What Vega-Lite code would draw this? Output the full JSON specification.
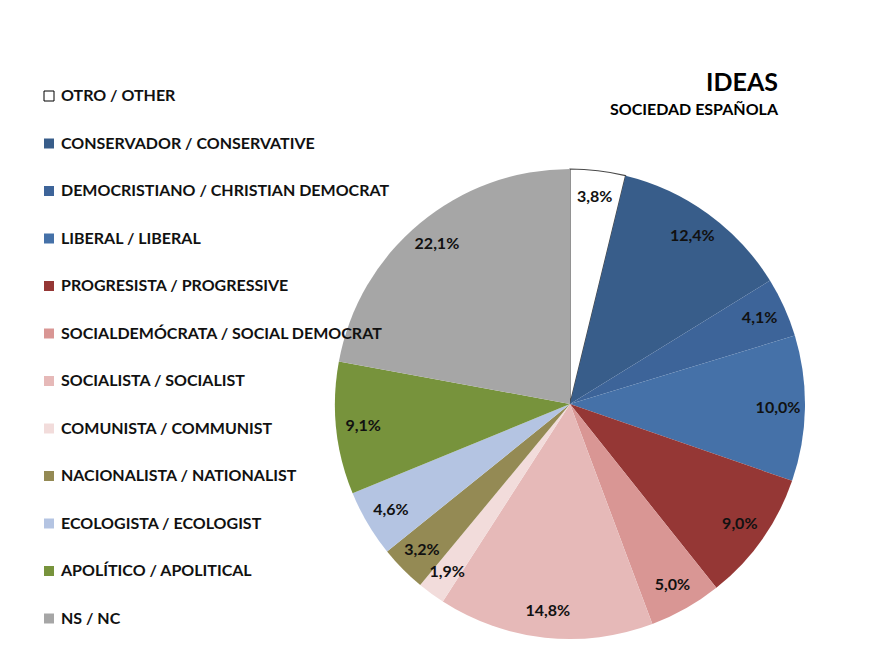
{
  "$schema": "https://vega.github.io/schema/vega-lite/v6.json",
  "width": 480,
  "height": 476,
  "autosize": "none",
  "padding": {"left": 330, "top": 166, "right": 66, "bottom": 4},
  "background": "white",
  "title": {
    "text": "IDEAS",
    "subtitle": "SOCIEDAD ESPAÑOLA",
    "anchor": "end",
    "frame": "group",
    "orient": "top",
    "offset": 50,
    "dx": -32,
    "dy": 80,
    "font": "Lato",
    "fontSize": 25,
    "fontWeight": "bold",
    "color": "#000000",
    "subtitleFont": "Lato",
    "subtitleFontSize": 16,
    "subtitleFontWeight": "bold",
    "subtitleColor": "#000000",
    "subtitlePadding": 6
  },
  "data": {
    "values": [
      {"o": 1, "cat": "OTRO / OTHER", "v": 3.8, "lab": "3,8%"},
      {"o": 2, "cat": "CONSERVADOR / CONSERVATIVE", "v": 12.4, "lab": "12,4%"},
      {"o": 3, "cat": "DEMOCRISTIANO / CHRISTIAN DEMOCRAT", "v": 4.1, "lab": "4,1%"},
      {"o": 4, "cat": "LIBERAL / LIBERAL", "v": 10.0, "lab": "10,0%"},
      {"o": 5, "cat": "PROGRESISTA / PROGRESSIVE", "v": 9.0, "lab": "9,0%"},
      {"o": 6, "cat": "SOCIALDEMÓCRATA / SOCIAL DEMOCRAT", "v": 5.0, "lab": "5,0%"},
      {"o": 7, "cat": "SOCIALISTA / SOCIALIST", "v": 14.8, "lab": "14,8%"},
      {"o": 8, "cat": "COMUNISTA / COMMUNIST", "v": 1.9, "lab": "1,9%"},
      {"o": 9, "cat": "NACIONALISTA / NATIONALIST", "v": 3.2, "lab": "3,2%"},
      {"o": 10, "cat": "ECOLOGISTA / ECOLOGIST", "v": 4.6, "lab": "4,6%"},
      {"o": 11, "cat": "APOLÍTICO / APOLITICAL", "v": 9.1, "lab": "9,1%"},
      {"o": 12, "cat": "NS / NC", "v": 22.1, "lab": "22,1%"}
    ]
  },
  "encoding": {
    "theta": {"field": "v", "type": "quantitative", "stack": true},
    "order": {"field": "o", "type": "quantitative", "sort": "ascending"}
  },
  "layer": [
    {
      "mark": {"type": "arc", "outerRadius": 235, "strokeWidth": 1.2},
      "encoding": {
        "color": {
          "field": "cat",
          "type": "nominal",
          "scale": {
            "domain": ["OTRO / OTHER", "CONSERVADOR / CONSERVATIVE", "DEMOCRISTIANO / CHRISTIAN DEMOCRAT", "LIBERAL / LIBERAL", "PROGRESISTA / PROGRESSIVE", "SOCIALDEMÓCRATA / SOCIAL DEMOCRAT", "SOCIALISTA / SOCIALIST", "COMUNISTA / COMMUNIST", "NACIONALISTA / NATIONALIST", "ECOLOGISTA / ECOLOGIST", "APOLÍTICO / APOLITICAL", "NS / NC"],
            "range": ["#FFFFFF", "#385D8A", "#3D6499", "#4571A8", "#953735", "#D99694", "#E6B9B8", "#F2DCDB", "#948A54", "#B4C4E2", "#77933C", "#A6A6A6"]
          },
          "legend": {
            "title": null,
            "orient": "none",
            "legendX": -289,
            "legendY": -78,
            "direction": "vertical",
            "symbolType": "square",
            "symbolSize": 100,
            "symbolStrokeColor": "#000000",
            "labelFont": "Lato",
            "labelFontSize": 16,
            "labelFontWeight": "bold",
            "labelColor": "#111111",
            "labelOffset": 4,
            "labelLimit": 400,
            "rowPadding": 31.5,
            "encode": {
              "symbols": {
                "update": {
                  "strokeWidth": {"signal": "datum.index === 0 ? 1 : 0"}
                }
              }
            }
          }
        },
        "stroke": {
          "condition": {"test": "datum.o === 1", "value": "#4a4a4a"},
          "value": "transparent"
        }
      }
    },
    {
      "mark": {"type": "text", "radius": 208, "font": "Lato", "fontSize": 16, "fontWeight": "bold", "color": "#111111"},
      "encoding": {
        "text": {"field": "lab", "type": "nominal"}
      }
    }
  ]
}
